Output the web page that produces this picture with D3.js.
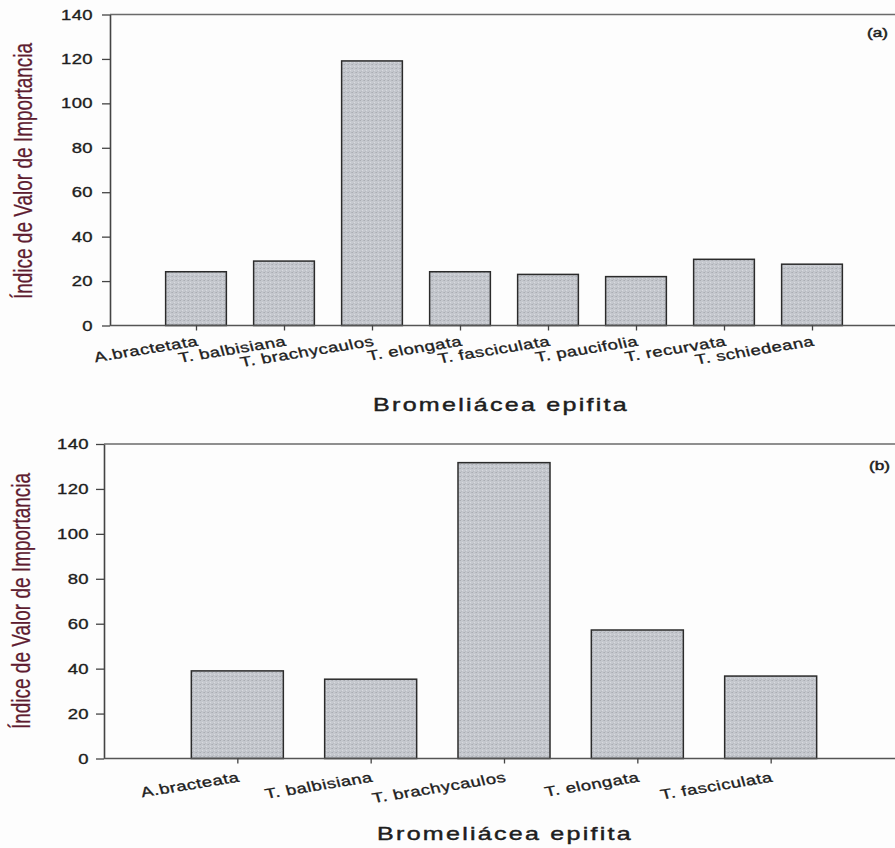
<!DOCTYPE html>
<html>
<head>
<meta charset="utf-8">
<script src="https://cdn.jsdelivr.net/npm/d3@7"></script>
<style>
  html, body { margin: 0; padding: 0; background: #fdfdfd; }
  svg { display: block; }
  text { font-family: Arial, "Liberation Sans", sans-serif; fill: #1e1e1e; }
</style>
</head>
<body>
<svg id="chart" width="895" height="848"></svg>
<script>
// Panel (a): importance value index of epiphytic bromeliads
const speciesA = ["A.bractetata", "T. balbisiana", "T. brachycaulos", "T. elongata",
                  "T. fasciculata", "T. paucifolia", "T. recurvata", "T. schiedeana"];
const valuesA = [24.2, 29.0, 119.1, 24.2, 23.0, 22.0, 29.8, 27.6];

// Panel (b)
const speciesB = ["A.bracteata", "T. balbisiana", "T. brachycaulos", "T. elongata", "T. fasciculata"];
const valuesB = [39.0, 35.3, 131.7, 57.2, 36.7];

const yTicks = [0, 20, 40, 60, 80, 100, 120, 140];
const yTitle = "Índice de Valor de Importancia";
const xTitle = "Bromeliácea epifita";

const SX = 1.32;   // horizontal text stretch used throughout the figure

const svg = d3.select("#chart");

// stipple fill for the bars
const defs = svg.append("defs");
const pat = defs.append("pattern")
  .attr("id", "stipple").attr("patternUnits", "userSpaceOnUse")
  .attr("width", 4).attr("height", 4);
pat.append("rect").attr("width", 4).attr("height", 4).attr("fill", "#c5c8ce");
pat.append("rect").attr("x", 0).attr("y", 0).attr("width", 1).attr("height", 1).attr("fill", "#aaadb3");
pat.append("rect").attr("x", 2).attr("y", 2).attr("width", 1).attr("height", 1).attr("fill", "#d8dadf");
pat.append("rect").attr("x", 3).attr("y", 0).attr("width", 1).attr("height", 1).attr("fill", "#b5b8be");
pat.append("rect").attr("x", 1).attr("y", 3).attr("width", 1).attr("height", 1).attr("fill", "#b8bbc1");

function stretched(g, x, y, str, opt) {
  const o = Object.assign({ rot: 0, size: 14, anchor: "start", fill: "#1e1e1e", spacing: 0,
                            baseline: "alphabetic", weight: 0.35 }, opt);
  return g.append("g")
    .attr("transform", `translate(${x},${y}) scale(${SX},1) rotate(${o.rot})`)
    .append("text")
    .attr("text-anchor", o.anchor)
    .attr("dominant-baseline", o.baseline)
    .attr("font-size", o.size)
    .attr("letter-spacing", o.spacing)
    .style("fill", o.fill)
    .style("stroke", o.fill)
    .style("stroke-width", o.weight)
    .text(str);
}

function panel(cfg) {
  const g = svg.append("g");
  const n = cfg.species.length;
  const x = d3.scaleLinear().domain([0, n + 1]).range([cfg.x0, cfg.x1]);
  const y = d3.scaleLinear().domain([0, 140]).range([cfg.yBottom, cfg.yTop]);
  const step = x(1) - x(0);
  const bw = step * 0.69;

  // frame: top edge of the plotting area
  g.append("line")
    .attr("x1", cfg.axisX).attr("x2", x(n + 1))
    .attr("y1", y(140)).attr("y2", y(140))
    .attr("stroke", "#6a6a6a").attr("stroke-width", 1.6);

  // bars
  g.selectAll("rect.bar")
    .data(cfg.values)
    .join("rect")
    .attr("class", "bar")
    .attr("x", (d, i) => x(i + 1) - bw / 2)
    .attr("width", bw)
    .attr("y", d => y(d))
    .attr("height", d => y(0) - y(d))
    .attr("fill", "url(#stipple)")
    .attr("stroke", "#2b2b2b")
    .attr("stroke-width", 1.5);

  // y axis
  const yAxis = g.append("g")
    .attr("transform", `translate(${cfg.axisX},0)`)
    .call(d3.axisLeft(y).tickValues(yTicks).tickSize(8).tickSizeOuter(0));
  yAxis.select(".domain").attr("stroke", "#444").attr("stroke-width", 1.6);
  yAxis.selectAll(".tick line").attr("stroke", "#444").attr("stroke-width", 1.3);
  yAxis.selectAll(".tick text").remove();
  yTicks.forEach(t => {
    stretched(g, cfg.axisX - cfg.labelGap, y(t), String(t),
      { anchor: "end", size: 14, baseline: "central", spacing: 0.3 });
  });

  // x axis
  const xAxis = g.append("g")
    .attr("transform", `translate(0,${y(0)})`)
    .call(d3.axisBottom(x).tickValues(d3.range(1, n + 1)).tickSize(5).tickSizeOuter(0)
      .tickFormat(""));
  xAxis.select(".domain")
    .attr("d", `M${cfg.axisX},0H${x(n + 1)}`)
    .attr("stroke", "#555").attr("stroke-width", 1.6);
  xAxis.selectAll(".tick line").attr("stroke", "#444").attr("stroke-width", 1.3);
  cfg.species.forEach((s, i) => {
    stretched(g, x(i + 1) + 3, y(0) + cfg.labelDrop, s,
      { anchor: "end", size: 14, rot: -12, spacing: 0.4 });
  });

  // axis titles
  stretched(g, cfg.yTitleX, cfg.yTitleY, yTitle,
    { anchor: "middle", size: 19, rot: -90, baseline: "central", fill: "#5e1c30", weight: 0.2 });
  stretched(g, cfg.xTitleX, cfg.xTitleY, xTitle,
    { anchor: "middle", size: 19, spacing: 1.7, weight: 0.45 });

  // panel letter
  stretched(g, cfg.tagX, cfg.tagY, cfg.tag, { anchor: "end", size: 13, baseline: "central", weight: 0.5 });
}

panel({
  species: speciesA, values: valuesA,
  x0: 108, x1: 900, axisX: 110, yTop: 14.5, yBottom: 325.5,
  labelGap: 17, labelDrop: 20,
  yTitleX: 24, yTitleY: 171, xTitleX: 501, xTitleY: 411,
  tag: "(a)", tagX: 888, tagY: 32
});

panel({
  species: speciesB, values: valuesB,
  x0: 104, x1: 904, axisX: 104, yTop: 444, yBottom: 758.5,
  labelGap: 15, labelDrop: 23,
  yTitleX: 22, yTitleY: 601, xTitleX: 505, xTitleY: 840,
  tag: "(b)", tagX: 890, tagY: 465
});
</script>
</body>
</html>
